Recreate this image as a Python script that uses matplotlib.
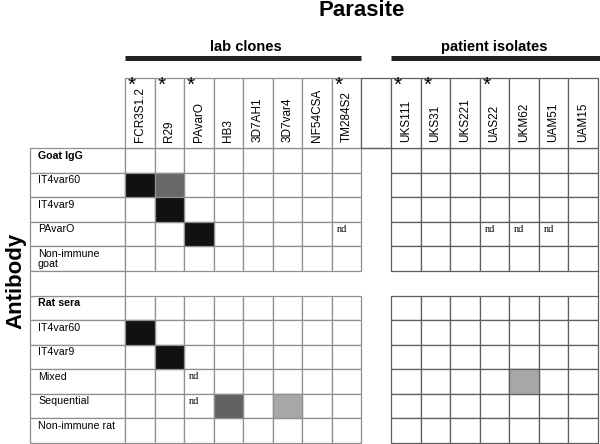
import matplotlib
matplotlib.use("Agg")
import matplotlib.pyplot as plt
from matplotlib.patches import Rectangle

# parasite columns
lab_clones = ["FCR3S1.2", "R29", "PAvarO", "HB3", "3D7AH1", "3D7var4", "NF54CSA", "TM284S2"]
patient_isolates = ["UKS111", "UKS31", "UKS221", "UAS22", "UKM62", "UAM51", "UAM15"]
starred = ["FCR3S1.2", "R29", "PAvarO", "TM284S2", "UKS111", "UKS31", "UAS22"]

# antibody rows
goat_rows = ["Goat IgG", "IT4var60", "IT4var9", "PAvarO", "Non-immune\ngoat"]
rat_rows = ["Rat sera", "IT4var60", "IT4var9", "Mixed", "Sequential", "Non-immune rat"]
bold_rows = ["Goat IgG", "Rat sera"]

# reactivity (antibody, parasite, grey shade)
goat_hits = [("IT4var60", "FCR3S1.2", "#111111"),
             ("IT4var60", "R29", "#686868"),
             ("IT4var9", "R29", "#111111"),
             ("PAvarO", "PAvarO", "#111111")]
rat_hits = [("IT4var60", "FCR3S1.2", "#111111"),
            ("IT4var9", "R29", "#111111"),
            ("Sequential", "HB3", "#626262"),
            ("Sequential", "3D7var4", "#a8a8a8"),
            ("Mixed", "UKM62", "#a8a8a8")]
# not done
goat_nd = [("PAvarO", "TM284S2"), ("PAvarO", "UAS22"), ("PAvarO", "UKM62"), ("PAvarO", "UAM51")]
rat_nd = [("Mixed", "PAvarO"), ("Sequential", "PAvarO")]

# column index: lab clones, one blank column, patient isolates
col_x = {name: i for i, name in enumerate(lab_clones)}
col_x.update({name: len(lab_clones) + 1 + i for i, name in enumerate(patient_isolates)})
n_cols = len(lab_clones) + 1 + len(patient_isolates)
gap_col = len(lab_clones)

goat_y = {name: i for i, name in enumerate(goat_rows)}
rat_y = {name: len(goat_rows) + 1 + i for i, name in enumerate(rat_rows)}
gap_row = len(goat_rows)

label_left = -3.214
head_top = -2.866

fig = plt.figure(figsize=(6, 4.44), dpi=100)
ax = fig.add_axes([0, 0, 1, 1])
ax.set_xlim(-4.229, 16.07)
ax.set_ylim(12.05, -6.046)
ax.axis("off")

sans = "Liberation Sans"
serif = "Liberation Serif"
lab_line = "#8f8f8f"
pat_line = "#5e5e5e"

def cell(x, y, w=1, face="white", edge=lab_line):
    ax.add_patch(Rectangle((x, y), w, 1, facecolor=face, edgecolor=edge, linewidth=0.9))

# body cells
all_rows = [(r, goat_y[r]) for r in goat_rows] + [(r, rat_y[r]) for r in rat_rows]
for name, y in all_rows + [("", gap_row)]:
    cell(label_left, y, w=-label_left)
    ax.text(label_left + 0.27, y + 0.1, name, ha="left", va="top", fontsize=7.7,
            family=sans, fontweight="bold" if name in bold_rows else "normal",
            linespacing=1.0)
    if name == "":
        continue
    for c in range(n_cols):
        if c == gap_col:
            continue
        cell(c, y, edge=lab_line if c < gap_col else pat_line)

# patient block right border through gap row
ax.plot([n_cols, n_cols], [gap_row, gap_row + 1], color=pat_line, lw=0.9)
# top line of body spans the blank column
ax.plot([gap_col, gap_col + 1], [0, 0], color=pat_line, lw=0.9)

# shaded cells
for rows, hits in [(goat_y, goat_hits), (rat_y, rat_hits)]:
    for ab, par, shade in hits:
        c = col_x[par]
        cell(c, rows[ab], face=shade, edge=lab_line if c < gap_col else pat_line)

for rows, nds in [(goat_y, goat_nd), (rat_y, rat_nd)]:
    for ab, par in nds:
        ax.text(col_x[par] + 0.17, rows[ab] + 0.3, "nd", ha="left", va="center",
                fontsize=7.5, family=serif)

# header boxes
for c in range(n_cols):
    ax.add_patch(Rectangle((c, head_top), 1, -head_top, facecolor="white",
                           edgecolor=lab_line if c < gap_col else pat_line, linewidth=0.9))
for name, c in col_x.items():
    ax.text(c + 0.5, -0.26, name, rotation=90, ha="center", va="bottom",
            fontsize=8.5, family=sans)
    if name in starred:
        ax.text(c + 0.23, head_top - 0.08, "*", ha="center", va="top",
                fontsize=15, family=sans)

# group bars
bar_y = -3.69
ax.plot([0, len(lab_clones)], [bar_y, bar_y], color="#222222", lw=3.6, solid_capstyle="butt")
ax.plot([gap_col + 1, n_cols + 0.1], [bar_y, bar_y], color="#222222", lw=3.6,
        solid_capstyle="butt")
ax.text(len(lab_clones) / 2 + 0.1, -4.14, "lab clones", ha="center", va="center",
        fontsize=10.5, fontweight="bold", family=sans)
ax.text(gap_col + 1 + len(patient_isolates) / 2 - 0.02, -4.14, "patient isolates",
        ha="center", va="center", fontsize=10.5, fontweight="bold", family=sans)

ax.text(8.0, -5.62, "Parasite", ha="center", va="center", fontsize=16,
        fontweight="bold", family=sans)
ax.text(-3.68, 5.4, "Antibody", rotation=90, ha="center", va="center", fontsize=16,
        fontweight="bold", family=sans)

fig.savefig("out.png", dpi=100)
